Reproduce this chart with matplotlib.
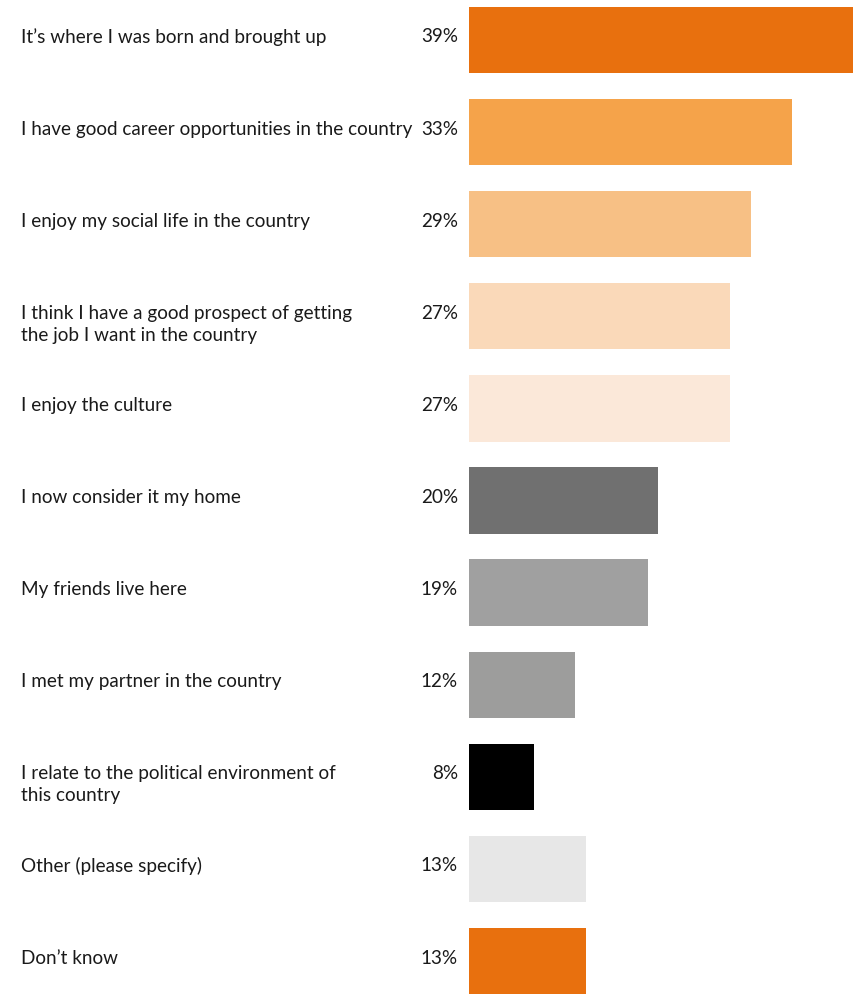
import matplotlib.pyplot as plt
import matplotlib.transforms as mtransforms

# reasons for staying, share of respondents
labels = [
    "It\u2019s where I was born and brought up",
    "I have good career opportunities in the country",
    "I enjoy my social life in the country",
    "I think I have a good prospect of getting\nthe job I want in the country",
    "I enjoy the culture",
    "I now consider it my home",
    "My friends live here",
    "I met my partner in the country",
    "I relate to the political environment of\nthis country",
    "Other (please specify)",
    "Don\u2019t know",
]
values = [39, 33, 29, 27, 27, 20, 19, 12, 8, 13, 13]
colors = ["#E8700E", "#F5A34A", "#F7C085", "#FAD9B9", "#FBE8D9",
          "#707070", "#A0A0A0", "#9D9D9C", "#000000", "#E7E7E7", "#E8700E"]

plt.rcParams['font.family'] = ['Lato', 'DejaVu Sans']

W, H = 854, 994
fig = plt.figure(figsize=(W / 100, H / 100), dpi=100)

# bar area on the right, rows every ~92 px
ax = fig.add_axes([469 / W, 0, 1 - 469 / W, 1])
step = 92.1
ax.set_ylim(10 + 33 / step, -40 / step)
ax.set_xlim(1.7, 39)

ypos = list(range(len(values)))
ax.barh(ypos, values, height=0.72, color=colors)
ax.axis('off')

trans = mtransforms.blended_transform_factory(fig.transFigure, ax.transData)
line_gap = 22 / step
nudge = -3 / step  # text sits slightly above bar centre
fs = 13.6
for y, lab, v in zip(ypos, labels, values):
    for k, line in enumerate(lab.split("\n")):
        ax.text(21 / W, y + nudge + k * line_gap, line, transform=trans,
                ha='left', va='center', fontsize=fs, color='#1a1a1a',
                clip_on=False)
    ax.text(458 / W, y + nudge, f"{v}%", transform=trans, ha='right',
            va='center', fontsize=fs, color='#1a1a1a', clip_on=False)

fig.savefig("out.png", dpi=100)
